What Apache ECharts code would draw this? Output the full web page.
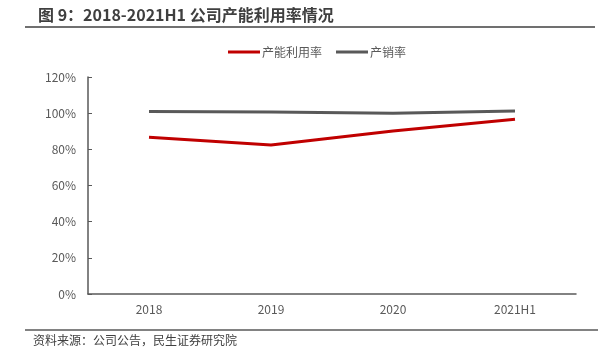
<!DOCTYPE html>
<html><head><meta charset="utf-8">
<script src="https://cdn.jsdelivr.net/npm/echarts@6/dist/echarts.min.js"></script>
<style>html,body{margin:0;padding:0;background:#fff}#c{width:606px;height:362px}</style>
</head><body><div id="c"></div>
<script>
const categories = ['2018', '2019', '2020', '2021H1'];
const capacityUtil = [86.7, 82.4, 90.2, 96.6];
const salesRate = [100.9, 100.7, 100.0, 101.2];
const yTicks = [0, 20, 40, 60, 80, 100, 120];
const titleText = '图 9：2018-2021H1 公司产能利用率情况';
const sourceText = '资料来源：公司公告，民生证券研究院';
const seriesNames = ['产能利用率', '产销率'];

const font = '"Noto Sans CJK SC", sans-serif';
const chart = echarts.init(document.getElementById('c'), null, {renderer: 'canvas'});
chart.setOption({
  animation: false,
  textStyle: {fontFamily: font},
  title: {
    text: titleText, left: 33, top: 2,
    textStyle: {fontSize: 16, fontWeight: 'bold', color: '#3f3f3f', fontFamily: font}
  },
  graphic: [
    {type: 'line', shape: {x1: 25, y1: 27, x2: 595, y2: 27}, style: {stroke: '#404040', lineWidth: 1.5}},
    {type: 'line', shape: {x1: 25, y1: 330, x2: 598, y2: 330}, style: {stroke: '#595959', lineWidth: 1.5}},
    {type: 'text', left: 33, top: 334, style: {text: sourceText, fontSize: 12, fill: '#404040', fontFamily: font}}
  ],
  legend: {
    data: seriesNames, left: 223, top: 41, icon: 'rect', itemWidth: 32, itemHeight: 3, itemGap: 14,
    textStyle: {fontSize: 12, color: '#595959', padding: [0, 0, 0, -3]}
  },
  grid: {left: 88, right: 30, top: 77, bottom: 68},
  xAxis: {
    type: 'category', data: categories, boundaryGap: true,
    axisLine: {lineStyle: {color: '#595959', width: 1.5}},
    axisTick: {inside: true, length: 4, lineStyle: {color: '#595959'}},
    axisLabel: {fontSize: 12, color: '#595959', margin: 9}
  },
  yAxis: {
    type: 'value', min: 0, max: 120, interval: 20,
    axisLine: {show: true, lineStyle: {color: '#595959', width: 1.5}},
    axisTick: {show: true, inside: true, length: 4, lineStyle: {color: '#595959'}},
    splitLine: {show: false},
    axisLabel: {fontSize: 12, color: '#595959', margin: 12, formatter: v => yTicks.includes(v) ? v + '%' : ''}
  },
  series: [
    {name: seriesNames[0], type: 'line', data: capacityUtil, symbol: 'none', lineStyle: {color: '#C00000', width: 3}, itemStyle: {color: '#C00000'}},
    {name: seriesNames[1], type: 'line', data: salesRate, symbol: 'none', lineStyle: {color: '#595959', width: 3}, itemStyle: {color: '#595959'}}
  ]
});
</script></body></html>
